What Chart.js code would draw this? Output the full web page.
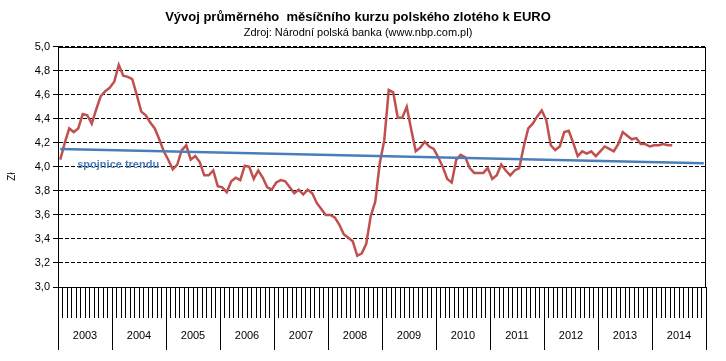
<!DOCTYPE html>
<html>
<head>
<meta charset="utf-8">
<script src="https://cdn.jsdelivr.net/npm/chart.js@4.4.1/dist/chart.umd.min.js"></script>
<style>
  html, body { margin: 0; padding: 0; background: #fff; }
</style>
</head>
<body>
<canvas id="kurzChart" width="726" height="361"></canvas>
<script>
// roky na ose x
var years = ['2003', '2004', '2005', '2006', '2007', '2008', '2009', '2010', '2011', '2012', '2013', '2014'];

// prumerny mesicni kurz PLN/EUR, leden 2003 - kveten 2014
var rates = [
  4.06, 4.20, 4.32, 4.29, 4.32, 4.44, 4.43, 4.36, 4.48, 4.59, 4.63, 4.66,
  4.71, 4.85, 4.76, 4.75, 4.73, 4.60, 4.46, 4.43, 4.37, 4.32, 4.23, 4.13,
  4.06, 3.98, 4.02, 4.14, 4.18, 4.06, 4.09, 4.04, 3.93, 3.93, 3.97, 3.84,
  3.83, 3.79, 3.88, 3.91, 3.89, 4.01, 4.00, 3.90, 3.97, 3.91, 3.83, 3.81,
  3.87, 3.89, 3.88, 3.83, 3.78, 3.81, 3.77, 3.81, 3.78, 3.70, 3.65, 3.60,
  3.60, 3.58, 3.52, 3.44, 3.41, 3.38, 3.26, 3.28, 3.36, 3.59, 3.71, 4.03,
  4.22, 4.64, 4.62, 4.41, 4.41, 4.50, 4.31, 4.13, 4.16, 4.21, 4.17, 4.15,
  4.08, 4.00, 3.90, 3.87, 4.06, 4.10, 4.08, 3.99, 3.95, 3.95, 3.95, 3.99,
  3.90, 3.93, 4.02, 3.97, 3.93, 3.97, 3.99, 4.17, 4.32, 4.36, 4.42, 4.47,
  4.39, 4.18, 4.14, 4.17, 4.29, 4.30, 4.20, 4.09, 4.13, 4.11, 4.13, 4.09,
  4.13, 4.17, 4.15, 4.13, 4.19, 4.29, 4.26, 4.23, 4.24, 4.19, 4.19, 4.17,
  4.18, 4.18, 4.19, 4.18, 4.18
];

// spojnice trendu - hodnota na zacatku a na konci osy
var trendStart = 4.15;
var trendEnd = 4.03;

// mesicni kategorie (12 na kazdy rok)
var months = [];
years.forEach(function (y) {
  for (var m = 1; m <= 12; m++) months.push(m + '/' + y);
});

var trendData = months.map(function (_, i) {
  if (i === 0) return trendStart;
  if (i === months.length - 1) return trendEnd;
  return null;
});

Chart.defaults.font.family = "'Liberation Sans', Arial, sans-serif";
Chart.defaults.color = '#000';

// ramecek plochy grafu, popisek trendu a nazev osy y
var extras = {
  id: 'extras',
  afterDraw: function (chart) {
    var ctx = chart.ctx, a = chart.chartArea;
    var xs = chart.scales.x, ys = chart.scales.y;
    ctx.save();
    ctx.strokeStyle = '#000';
    ctx.lineWidth = 1;
    ctx.strokeRect(Math.round(a.left) + 0.5, Math.round(a.top) + 0.5,
      Math.round(a.right - a.left) - 1, Math.round(a.bottom - a.top));

    ctx.fillStyle = '#4A7EBB';
    ctx.font = "bold 11px 'Liberation Sans', Arial, sans-serif";
    ctx.textBaseline = 'middle';
    ctx.textAlign = 'left';
    ctx.fillText('spojnice trendu', xs.getPixelForValue(4) - 1, ys.getPixelForValue(4.0) - 2);

    ctx.fillStyle = '#000';
    ctx.font = "10px 'Liberation Sans', Arial, sans-serif";
    ctx.textAlign = 'center';
    ctx.translate(12, ys.getPixelForValue(3.92));
    ctx.rotate(-Math.PI / 2);
    ctx.fillText('Zł', 0, 0);
    ctx.restore();
  }
};

new Chart(document.getElementById('kurzChart'), {
  type: 'line',
  data: {
    labels: months,
    datasets: [
      {
        label: 'spojnice trendu',
        data: trendData,
        borderColor: '#4A7EBB',
        borderWidth: 2.5,
        pointRadius: 0,
        spanGaps: true,
        order: 0
      },
      {
        label: 'kurz',
        data: rates,
        borderColor: '#C0504D',
        borderWidth: 2.5,
        pointRadius: 0,
        tension: 0,
        order: 1
      }
    ]
  },
  options: {
    responsive: false,
    animation: false,
    layout: { padding: { top: 4, right: 20, bottom: 0, left: 10 } },
    plugins: {
      legend: { display: false },
      tooltip: { enabled: false },
      title: {
        display: true,
        text: 'Vývoj průměrného  měsíčního kurzu polského zlotého k EURO',
        font: { size: 13, weight: 'bold' },
        color: '#000',
        padding: { top: 6, bottom: 0 }
      },
      subtitle: {
        display: true,
        text: 'Zdroj: Národní polská banka (www.nbp.com.pl)',
        font: { size: 11 },
        color: '#000',
        padding: { top: 1, bottom: 7 }
      }
    },
    scales: {
      x: {
        type: 'category',
        offset: true,
        grid: { offset: true, drawOnChartArea: false, color: '#000', tickLength: 31 },
        border: { color: '#000' },
        ticks: { display: false, autoSkip: false },
        afterFit: function (s) { s.height = 31; }
      },
      x2: {
        type: 'category',
        labels: years,
        position: 'bottom',
        offset: true,
        grid: { offset: true, drawOnChartArea: false, color: '#000', tickLength: 32 },
        border: { display: false },
        ticks: { autoSkip: false, maxRotation: 0, padding: -21, font: { size: 11 }, color: '#000' },
        afterFit: function (s) { s.height = 43; }
      },
      y: {
        min: 3,
        max: 5,
        ticks: {
          stepSize: 0.2,
          padding: 3,
          font: { size: 11 },
          color: '#000',
          callback: function (v) { return v.toFixed(1).replace('.', ','); }
        },
        grid: { color: '#000', tickLength: 5 },
        border: { color: '#000', dash: [4, 2] },
        afterFit: function (s) { s.width = 48; }
      }
    }
  },
  plugins: [extras]
});
</script>
</body>
</html>
